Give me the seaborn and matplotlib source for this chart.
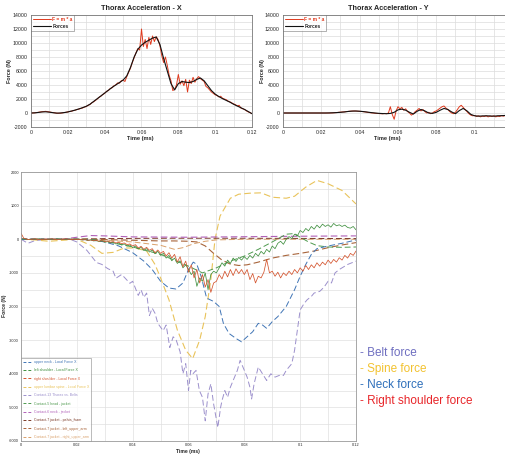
import numpy as np
import pandas as pd
import matplotlib
matplotlib.use("Agg")
import matplotlib.pyplot as plt
import seaborn as sns
from matplotlib.ticker import MultipleLocator, FuncFormatter
from matplotlib.lines import Line2D

# ---------------- data: top panels (time 0 .. 0.12) ----------------
thx_forces = [0, 20, 80, 150, 170, 120, 40, -20, 0, 60,
              150, 280, 420, 580, 760, 960, 1250, 1650, 2050, 2450,
              2850, 3250, 3650, 4000, 4350, 4700, 5300, 6500, 8000, 9100,
              9700, 10100, 10400, 10700, 10850, 9800, 7800, 6000, 4200, 3300,
              4200, 4500, 4400, 4350, 4500, 4800, 5000, 4600, 3900, 3200,
              2700, 2350, 2050, 1800, 1550, 1250, 1000, 750, 500, 200,
              -100]
thx_fma = [0, 10, 30, 60, 100, 150, 180, 210, 240, 190, 150, 100, 60, 20, -20, -40, -20, 10, 60, 100,
           150, 230, 250, 340, 400, 500, 560, 650, 720, 850, 920, 1100, 1200, 1450, 1600, 1800, 2000, 2250, 2400, 2650,
           2800, 3100, 3200, 3500, 3600, 3900, 4000, 4300, 4250, 4600, 4700, 4500, 5200, 5800, 6400, 7200, 7900, 8600, 9200, 9000,
           12000, 9500, 10500, 9200, 10800, 9800, 11000, 10200, 10900, 10500, 9600, 8200, 7200, 8000, 6800, 5400, 4600, 3200, 3400, 4000,
           5500, 4100, 4600, 3900, 4800, 3000, 4700, 4200, 5100, 4400, 4900, 5200, 4900, 4700, 4500, 3800, 3600, 3300, 3000, 2800,
           2600, 2500, 2300, 2400, 2100, 2000, 1900, 1700, 1600, 1450, 1300, 1200, 1000, 1100, 700, 600, 500, 300, 150, 50, -100]
thy_forces = [0, 0, 0, 0, 0, 0, 0, 0, 0, 0,
              0, 0, 10, 30, 60, 100, 150, 220, 270, 280,
              250, 200, 130, 60, 0, -50, -80, -100, -60, 100,
              450, 550, 400, 100, -150, 250, 500, 300, 0, -50,
              100, 400, 650, 500, 150, -100, 350, 650, 300, -200,
              -400, -450, -420, -400, -420, -450, -400, -380, -350, -330, -300]
thy_fma = [0, 0, 0, 0, 0, 0, 0, 0, 0, 0, 0, 0, 0, 0, 0, 0, 0, 0, 0, 0,
           0, 0, 0, 0, 0, 10, 20, 40, 60, 100, 120, 150, 160, 200, 230, 260, 270, 290, 280, 260,
           240, 220, 180, 150, 100, 60, 20, 0, -40, -60, -80, -100, -120, -60, -100, 0, 900, -200, -900, 300,
           900, 600, 800, 400, 600, 200, 0, -300, -100, 200, 400, 650, 300, 500, 200, 0, 100, -100, 0, 200,
           300, 500, 700, 900, 1000, 700, 500, 200, 0, -100, 100, 500, 900, 1100, 800, 500, 200, -100, -300, -400,
           -350, -500, -400, -550, -450, -500, -400, -550, -450, -500, -400, -550, -450, -500, -380, -450, -350, -420, -300, -380, -300]
top_legend = ["F = m * a", "Forces"]

# ---------------- data: bottom panel ----------------
labels = ["upper neck - Local Force X", "left shoulder - Local Force X",
          "right shoulder - Local Force X", "upper lumbar spine - Local Force X",
          "Contact-13 Thorax vs. Belts", "Contact-5 head - jacket", "Contact-6 neck - jacket",
          "Contact-7 jacket - pelvis_foam", "Contact-7 jacket - left_upper_arm",
          "Contact-7 jacket - right_upper_arm"]

neck_t = [0, 0.02, 0.025, 0.03, 0.035, 0.04, 0.044, 0.047, 0.05, 0.053, 0.0555, 0.058, 0.06, 0.0617, 0.063,
          0.0645, 0.0665, 0.069, 0.071, 0.0725, 0.0745, 0.077, 0.079, 0.081, 0.083, 0.085, 0.0865, 0.088, 0.09,
          0.092, 0.095, 0.098, 0.1, 0.102, 0.104, 0.106, 0.11, 0.115, 0.12]
neck_v = [0, 0, -20, -80, -200, -400, -650, -900, -1250, -1450, -1480, -1300, -900, -680, -750,
          -1100, -1750, -1850, -2000, -2500, -2800, -2950, -3050, -2900, -2750, -2500, -2550, -2650, -2450,
          -2300, -2000, -1500, -1100, -750, -450, -280, -200, -120, -20]

lsh_v = [0, 10, 0, -10, 0, 0, 10, 0, 0, -10, 0, 0, 0, 10, 0, 0, -10, 0, 0, 0,
         0, -10, -20, -10, -40, -20, -50, -40, -70, -50, -90, -70, -110, -90, -140, -110, -170, -140, -200, -170,
         -250, -200, -290, -240, -330, -280, -380, -320, -430, -360, -480, -420, -560, -480, -640, -560, -720, -640, -850, -760,
         -900, -1050, -950, -1400, -1150, -1250, -1000, -1500, -1050, -950, -1000, -850, -700, -800, -620, -720, -560, -660, -540, -620,
         -520, -600, -480, -560, -420, -500, -360, -440, -300, -380, -200, -280, -120, -60, -150, 0, 80, 20, 150, 100,
         260, 200, 320, 250, 380, 300, 420, 340, 450, 380, 430, 360, 470, 400, 430, 380, 420, 350, 330, 380, 280]

rsh_v = [180, 30, 0, -10, 0, 10, 0, -10, 0, 0, 0, 10, 0, -10, 0, 0, 10, 0, -10, 0,
         -10, 0, -20, -10, -30, -20, -40, -30, -60, -40, -70, -50, -90, -70, -110, -90, -130, -110, -160, -140,
         -200, -160, -260, -210, -300, -240, -330, -280, -400, -320, -420, -360, -500, -400, -560, -450, -680, -520, -820, -650,
         -980, -760, -1150, -900, -1300, -1050, -1420, -1200, -1580, -1300, -1250, -1050, -1180, -950, -1120, -900, -1080, -880, -1020, -900,
         -1050, -900, -1200, -1020, -1300, -1100, -1150, -980, -600, -1000, -950, -1100, -980, -1150, -1000, -1080, -950, -1050, -900, -1000,
         -850, -950, -780, -900, -760, -850, -700, -800, -680, -760, -620, -720, -600, -680, -550, -620, -480, -560, -420, -480, -350]

spine_t = [0, 0.005, 0.01, 0.015, 0.02, 0.025, 0.029, 0.033, 0.037, 0.041, 0.045, 0.048, 0.05, 0.053, 0.056,
           0.059, 0.0615, 0.064, 0.066, 0.068, 0.0695, 0.0713, 0.075, 0.078, 0.082, 0.086, 0.09, 0.095, 0.098,
           0.102, 0.106, 0.11, 0.115, 0.12]
spine_v = [0, -20, -60, -30, 0, -180, -420, -390, -260, -260, -350, -750, -1150, -1800, -2700,
           -3300, -3550, -3000, -2300, -1200, 0, 690, 1220, 1340, 1370, 1380, 1250, 1220, 1280,
           1550, 1750, 1650, 1450, 1050]

belt_t = [0, 0.0025, 0.005, 0.01, 0.0175, 0.02, 0.0236, 0.027, 0.029, 0.031,
          0.033, 0.034, 0.036, 0.037, 0.039, 0.040, 0.042, 0.043, 0.044, 0.045,
          0.046, 0.047, 0.048, 0.049, 0.0509, 0.052, 0.0533, 0.0545, 0.0556, 0.057,
          0.058, 0.059, 0.060, 0.0608, 0.0616, 0.0627, 0.0639, 0.065, 0.066, 0.067,
          0.068, 0.069, 0.0705, 0.0715, 0.072, 0.073, 0.074, 0.075, 0.076, 0.0775,
          0.0785, 0.080, 0.081, 0.082, 0.0826, 0.0835, 0.085, 0.0865, 0.088, 0.0895,
          0.091, 0.0925, 0.094, 0.095, 0.097, 0.098, 0.099, 0.100, 0.1015, 0.1025,
          0.104, 0.105, 0.107, 0.1085, 0.110, 0.1112, 0.1125, 0.114, 0.115, 0.117, 0.12]
belt_v = [0, -120, -40, 0, 0, -80, -330, -690, -750, -870,
          -950, -1160, -1050, -1130, -1310, -1250, -1670, -1500, -1730, -1600,
          -2270, -2050, -2200, -2500, -2720, -2550, -3220, -2900, -3000, -3350,
          -4000, -3700, -4500, -3900, -4000, -3900, -4500, -4700, -5400, -4600,
          -4300, -4900, -5600, -5000, -4800, -4500, -4700, -4400, -4200, -3900,
          -3600, -3900, -4100, -4400, -4750, -4300, -3800, -4000, -4200, -4000,
          -4100, -4050, -4050, -3900, -3700, -3300, -2700, -2100, -1900, -1800,
          -1700, -1600, -1550, -1430, -1250, -1300, -1000, -900, -850, -750, -650]

head_t = [0, 0.025, 0.03, 0.04, 0.05, 0.06, 0.065, 0.07, 0.075, 0.08, 0.085, 0.09, 0.095, 0.098, 0.1,
          0.103, 0.106, 0.11, 0.115, 0.12]
head_v = [0, 0, -60, -230, -450, -800, -1000, -850, -650, -500, -300, -80, 150, 170, 60,
          -80, -190, -230, -240, -230]

neckj_t = [0, 0.015, 0.02, 0.025, 0.03, 0.04, 0.06, 0.08, 0.1, 0.12]
neckj_v = [0, 0, 60, 110, 100, 70, 60, 75, 90, 100]

pelvis_t = [0, 0.02, 0.03, 0.05, 0.08, 0.1, 0.12]
pelvis_v = [0, 0, 20, 30, 30, 25, 20]

lua_t = [0, 0.025, 0.04, 0.05, 0.055, 0.06, 0.063, 0.066, 0.069, 0.072, 0.075, 0.078, 0.081, 0.085, 0.09,
         0.095, 0.1, 0.105, 0.11, 0.115, 0.12]
lua_v = [0, 0, -30, -50, -50, -60, -80, -200, -420, -620, -740, -780, -760, -680, -560,
         -480, -420, -350, -250, -170, -100]

rua_t = [0, 0.025, 0.03, 0.04, 0.05, 0.055, 0.058, 0.062, 0.066, 0.07, 0.08, 0.12]
rua_v = [0, 0, -30, -80, -180, -300, -250, -130, -60, -20, 0, 0]

notes = ["- Belt force", "- Spine force", "- Neck force", "- Right shoulder force"]
note_colors = ["#6e6ec0", "#f2c230", "#2e6fba", "#e8262a"]

# ---------------- figure ----------------
sns.set_style("white")
plt.rcParams['font.family'] = ['Liberation Sans', 'DejaVu Sans']

W, H = 506, 457
fig = plt.figure(figsize=(W / 100, H / 100), dpi=100)


def px_axes(l, t, r, b):
    return fig.add_axes([l / W, 1 - b / H, (r - l) / W, (b - t) / H])


def draw(ax, t, v, color, lw, ls, label=None):
    df = pd.DataFrame({"t": np.asarray(t, float), "v": np.asarray(v, float)})
    sns.lineplot(data=df, x="t", y="v", ax=ax, color=color, lw=lw, linestyle=ls,
                 estimator=None, label=label)


def fmt_x(v, p):
    return "0" if abs(v) < 1e-9 else f"{v:g}"


def style_top(ax):
    ax.set_xlim(0, 0.12)
    ax.set_ylim(-2000, 14000)
    ax.xaxis.set_major_locator(MultipleLocator(0.02))
    ax.xaxis.set_minor_locator(MultipleLocator(0.01))
    ax.yaxis.set_major_locator(MultipleLocator(2000))
    ax.yaxis.set_minor_locator(MultipleLocator(1000))
    ax.xaxis.set_major_formatter(FuncFormatter(fmt_x))
    ax.yaxis.set_major_formatter(FuncFormatter(lambda v, p: f"{v:.0f}"))
    ax.grid(which="both", color="#dcdcdc", lw=0.5)
    ax.tick_params(labelsize=3.8, length=1.5, width=0.4, pad=0.8)
    for s in ax.spines.values():
        s.set_color("#777777")
        s.set_linewidth(0.6)
    ax.set_xlabel("")
    ax.set_ylabel("")
    leg = ax.legend(loc="upper left", handlelength=3.6, frameon=True, fancybox=False,
                    borderpad=0.35, labelspacing=0.35, handletextpad=0.3, borderaxespad=0.1,
                    prop={"weight": "bold", "size": 3.5})
    leg.get_frame().set_edgecolor("#555555")
    leg.get_frame().set_linewidth(0.4)
    leg.texts[0].set_color("#e03a1e")


# top-left
ax1 = px_axes(31, 15, 252, 127)
draw(ax1, np.linspace(0, 0.12, len(thx_fma)), thx_fma, "#e03a1e", 0.7, "-", top_legend[0])
draw(ax1, np.linspace(0, 0.12, len(thx_forces)), thx_forces, "#111111", 0.8, "-", top_legend[1])
style_top(ax1)
fig.text(141 / W, 1 - 8 / H, "Thorax Acceleration - X", ha="center", va="center", fontsize=5.2, weight="bold")
fig.text(140 / W, 1 - 138.5 / H, "Time (ms)", ha="center", va="center", fontsize=4.1, weight="bold")
fig.text(9 / W, 1 - 71 / H, "Force (N)", ha="center", va="center", rotation=90, fontsize=3.9, weight="bold")

# top-right
ax2 = px_axes(283, 15, 513, 127)
draw(ax2, np.linspace(0, 0.12, len(thy_fma)), thy_fma, "#e03a1e", 0.7, "-", top_legend[0])
draw(ax2, np.linspace(0, 0.12, len(thy_forces)), thy_forces, "#111111", 0.8, "-", top_legend[1])
style_top(ax2)
fig.text(388 / W, 1 - 8 / H, "Thorax Acceleration - Y", ha="center", va="center", fontsize=5.2, weight="bold")
fig.text(387 / W, 1 - 138.5 / H, "Time (ms)", ha="center", va="center", fontsize=4.1, weight="bold")
fig.text(263 / W, 1 - 71 / H, "Force (N)", ha="center", va="center", rotation=90, fontsize=3.9, weight="bold")

# bottom
ax3 = px_axes(21, 172, 356, 441)
fine_t = np.linspace(0, 0.12, len(lsh_v))
colors = ["#3f74b5", "#3f8f3f", "#d4542e", "#e9c35a", "#9c90cc",
          "#4e9a4e", "#b060b8", "#7b3a28", "#a8643a", "#d9a06a"]
dash = (0, (6, 3))
series = [
    (neck_t, neck_v, colors[0], 0.7, dash),
    (fine_t, lsh_v, colors[1], 0.55, "-"),
    (fine_t, rsh_v, colors[2], 0.55, "-"),
    (spine_t, spine_v, colors[3], 0.8, dash),
    (belt_t, belt_v, colors[4], 0.7, dash),
    (head_t, head_v, colors[5], 0.7, dash),
    (neckj_t, neckj_v, colors[6], 0.8, dash),
    (pelvis_t, pelvis_v, colors[7], 0.7, dash),
    (lua_t, lua_v, colors[8], 0.8, dash),
    (rua_t, rua_v, colors[9], 0.7, dash),
]
order = [4, 3, 9, 7, 6, 8, 5, 0, 1, 2]
for i in order:
    t, v, c, lw, ls = series[i]
    draw(ax3, t, v, c, lw, ls, labels[i])

ax3.set_xlim(0, 0.12)
ax3.set_ylim(-6000, 2000)
ax3.xaxis.set_major_locator(MultipleLocator(0.02))
ax3.xaxis.set_minor_locator(MultipleLocator(0.01))
ax3.yaxis.set_major_locator(MultipleLocator(1000))
ax3.yaxis.set_minor_locator(MultipleLocator(500))
ax3.xaxis.set_major_formatter(FuncFormatter(fmt_x))
ax3.yaxis.set_major_formatter(FuncFormatter(lambda v, p: f"{v:.0f}"))
ax3.grid(which="both", color="#e0e0e0", lw=0.5)
ax3.tick_params(labelsize=2.8, length=0, pad=1.5)
for s in ax3.spines.values():
    s.set_color("#999999")
    s.set_linewidth(0.6)
ax3.set_xlabel("")
ax3.set_ylabel("")
leg_handles = [Line2D([], [], color=colors[i], lw=0.7, linestyle=(0, (3, 2))) for i in range(10)]
leg = ax3.legend(leg_handles, labels, loc="lower left", fontsize=2.5, handlelength=2.6, frameon=True,
                 fancybox=False, borderpad=0.6, labelspacing=1.25, handletextpad=0.5, borderaxespad=0.0)
leg.get_frame().set_edgecolor("#888888")
leg.get_frame().set_linewidth(0.5)
for txt, c in zip(leg.texts, colors):
    txt.set_color(c)
fig.text(188 / W, 1 - 451 / H, "Time (ms)", ha="center", va="center", fontsize=3.6, weight="bold")
fig.text(5 / W, 1 - 306 / H, "Force (N)", ha="center", va="center", rotation=90, fontsize=3.6, weight="bold")

# annotations
for k, (s, c) in enumerate(zip(notes, note_colors)):
    fig.text(360 / W, 1 - (353 + 16 * k) / H, s, ha="left", va="center", fontsize=8.5, color=c)

fig.savefig("out.png", dpi=100)
